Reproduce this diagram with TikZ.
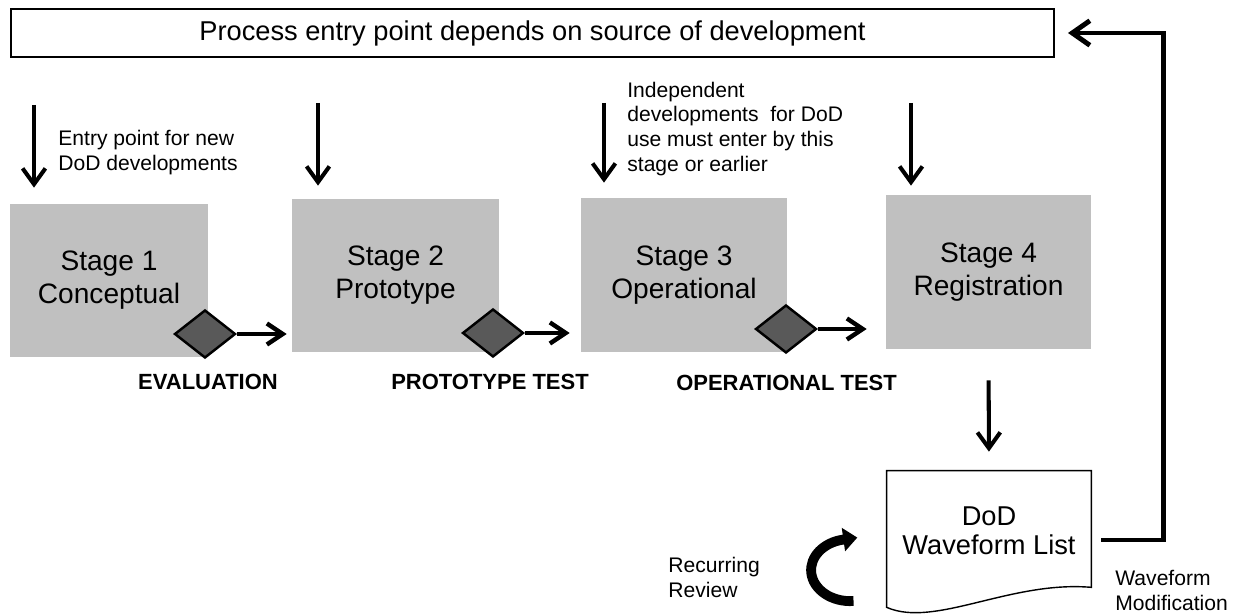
\documentclass[tikz,border=0pt]{standalone}
\usepackage{fontspec}
\setmainfont{Liberation Sans}
\usetikzlibrary{shapes.geometric,arrows.meta}
\definecolor{stagegray}{HTML}{C0C0C0}
\definecolor{gatefill}{HTML}{595959}

\begin{document}
\begin{tikzpicture}[
    topbox/.style={draw, line width=1.1pt, minimum width=20.86cm, minimum height=0.96cm, font=\fontsize{15.5}{18.7}\selectfont},
    stage/.style={fill=stagegray, minimum height=3.06cm, align=center, font=\fontsize{16}{18.7}\selectfont},
    gate/.style={diamond, draw, fill=gatefill, line width=1.4pt, minimum width=1.22cm, minimum height=0.96cm, inner sep=0pt},
    phase/.style={font=\bfseries\fontsize{12.5}{15}\selectfont},
    note/.style={align=left, inner sep=0pt, font=\fontsize{12}{14.2}\selectfont},
    doc/.style={minimum width=4.08cm, minimum height=2.4cm, align=center, font=\fontsize{15.5}{16.5}\selectfont},
    entryarrow/.style={line width=2.3pt, -{Straight Barb[length=9pt,width=13pt]}},
    steparrow/.style={line width=2.5pt, -{Straight Barb[length=9pt,width=12pt]}},
    backarrow/.style={line width=2.8pt, -{Straight Barb[length=10pt,width=14pt]}},
    reviewarrow/.style={line width=5.6pt, -{Triangle[length=8pt,width=13pt]}}
]
        \useasboundingbox (0,0) rectangle (24.72,12.28);

        \node [topbox] (entry) at (10.65,11.62) {Process entry point depends on source of development};

        \node [stage, minimum width=3.96cm] (s1) at (2.18,6.67) {Stage 1\\Conceptual};
        \node [stage, minimum width=4.14cm] (s2) at (7.91,6.77) {Stage 2\\Prototype};
        \node [stage, minimum width=4.12cm, minimum height=3.08cm] (s3) at (13.68,6.78) {Stage 3\\Operational};
        \node [stage, minimum width=4.10cm, minimum height=3.08cm] (s4) at (19.77,6.84) {Stage 4\\Registration};

        \node [gate] (g1) at (4.10,5.60) {};
        \node [gate] (g2) at (9.86,5.62) {};
        \node [gate] (g3) at (15.72,5.70) {};

        \node [phase] (p1) at (4.16,4.64) {EVALUATION};
        \node [phase] (p2) at (9.80,4.64) {PROTOTYPE TEST};
        \node [phase] (p3) at (15.73,4.62) {OPERATIONAL TEST};

        \coordinate (in1) at (0.68,10.18);
        \coordinate (in2) at (6.36,10.22);
        \coordinate (in3) at (12.08,10.22);
        \coordinate (in4) at (18.22,10.22);

        \node [note, anchor=west] (n1) at (1.16,9.23) {Entry point for new\\DoD developments};
        \node [note, anchor=west] (n3) at (12.54,9.70) {Independent\\developments\ \ for DoD\\use must enter by this\\stage or earlier};

        \node [doc] (list) at (19.78,1.66) {DoD\\Waveform List};
        \draw [line width=0.8pt] (list.north west) -- ([yshift=-0.32cm]list.south west)
            .. controls ([xshift=0.96cm,yshift=-0.74cm]list.south west) and ([xshift=-1.62cm,yshift=0.22cm]list.south east)
            .. ([yshift=0.08cm]list.south east) -- (list.north east) -- cycle;

        \node [note, anchor=west] (rr) at (13.36,0.74) {Recurring\\Review};
        \node [note, anchor=west] (wm) at (22.30,0.47) {Waveform\\Modification};

        \draw [entryarrow, shorten >=0.32cm] (in1) -- (in1 |- s1.north);
        \draw [entryarrow, shorten >=0.26cm] (in2) -- (in2 |- s2.north);
        \draw [entryarrow, shorten >=0.30cm] (in3) -- (in3 |- s3.north);
        \draw [entryarrow, shorten >=0.18cm] (in4) -- (in4 |- s4.north);

        \draw [steparrow, shorten >=0.10cm] (g1.east) -- (g1.east -| s2.west);
        \draw [steparrow, shorten >=0.22cm] (g2.east) -- (g2.east -| s3.west);
        \draw [steparrow, shorten >=0.38cm] (g3.east) -- (g3.east -| s4.west);

        \draw [entryarrow, shorten <=0.62cm, shorten >=0.38cm] (s4.south) -- (list.north);

        \draw [backarrow] ([xshift=0.2cm,yshift=-0.18cm]list.east) -- ([xshift=1.44cm,yshift=-0.18cm]list.east) |- ([xshift=0.26cm]entry.east);

        \coordinate (rv) at (17.07,0.26);
        \draw [reviewarrow] (rv) arc [start angle=-85, end angle=-260, x radius=0.78, y radius=0.62] -- ++(0.28,0.04);

    \end{tikzpicture}
\end{document}
